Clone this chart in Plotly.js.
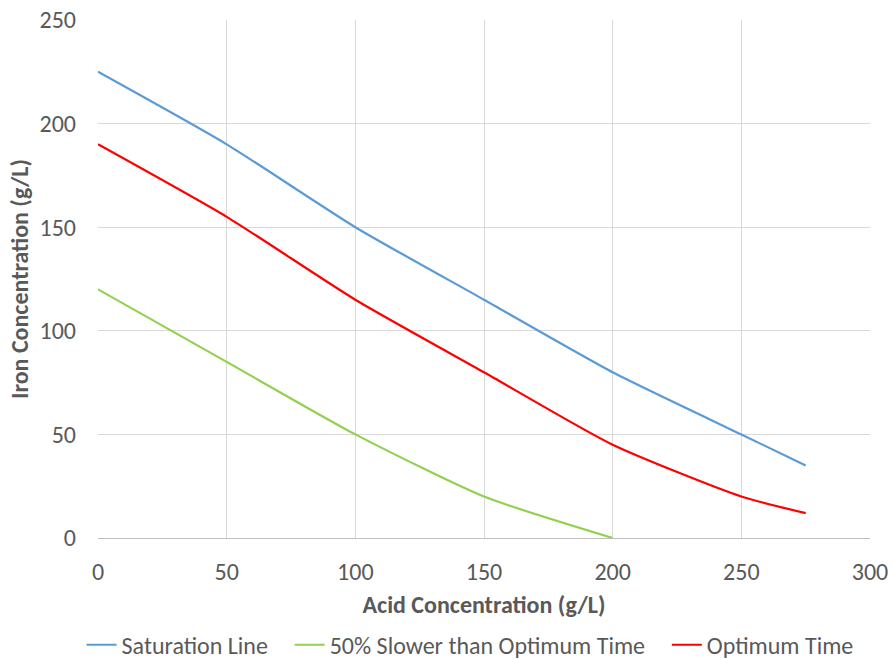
<!DOCTYPE html>
<html><head><meta charset="utf-8">
<script src="https://cdn.plot.ly/plotly-3.0.1.min.js"></script>
<style>body{margin:0;}#chart{width:892px;height:659px;}</style>
</head><body><div id="chart"></div>
<script>
const xSat = [0, 50, 100, 150, 200, 250, 275];
const ySat = [225, 190, 150, 115, 80, 50, 35];
const xSlow = [0, 50, 100, 150, 200];
const ySlow = [120, 85, 50, 20, 0];
const xOpt = [0, 50, 100, 150, 200, 250, 275];
const yOpt = [190, 155, 115, 80, 45, 20, 12];
const seriesNames = ['Saturation Line', '50% Slower than Optimum Time', 'Optimum Time'];
const FONT = "Carlito, Lato, 'Open Sans', sans-serif";
const PAD = '\u2002\u2009';
const traces = [
  {x: xSat, y: ySat, name: seriesNames[0] + PAD, mode: 'lines', line: {color: '#5b9bd5', width: 2.2, shape: 'spline', smoothing: 0.6}},
  {x: xSlow, y: ySlow, name: seriesNames[1] + PAD, mode: 'lines', line: {color: '#92d050', width: 2.2, shape: 'spline', smoothing: 0.6}},
  {x: xOpt, y: yOpt, name: seriesNames[2], mode: 'lines', line: {color: '#ff0000', width: 2.2, shape: 'spline', smoothing: 0.6}}
];
const layout = {
  width: 892, height: 659,
  margin: {l: 98, r: 22, t: 20, b: 121, autoexpand: false},
  paper_bgcolor: '#fff', plot_bgcolor: '#fff',
  font: {family: FONT, size: 24, color: '#595959'},
  xaxis: {range: [0, 300], dtick: 50, showgrid: true, gridcolor: '#d9d9d9', zeroline: false,
    showline: true, linecolor: '#bfbfbf', ticks: '', ticklabelstandoff: 12, automargin: false,
    title: {text: '<b>Acid Concentration (g/L)</b>', font: {size: 24, color: '#595959'}, standoff: 11}},
  yaxis: {range: [0, 250], dtick: 50, showgrid: true, gridcolor: '#d9d9d9', zeroline: false,
    showline: false, ticks: '', ticklabelstandoff: 21, automargin: false,
    title: {text: '<b>Iron Concentration (g/L)</b>', font: {size: 24, color: '#595959'}, standoff: 4}},
  legend: {orientation: 'h', x: 0.527, xanchor: 'center', xref: 'container', yref: 'container', y: 0.021, yanchor: 'middle',
    font: {size: 24, color: '#595959'}, itemwidth: 30, tracegroupgap: 0},
  showlegend: true
};
Plotly.newPlot('chart', traces, layout, {displayModeBar: false});
</script></body></html>
